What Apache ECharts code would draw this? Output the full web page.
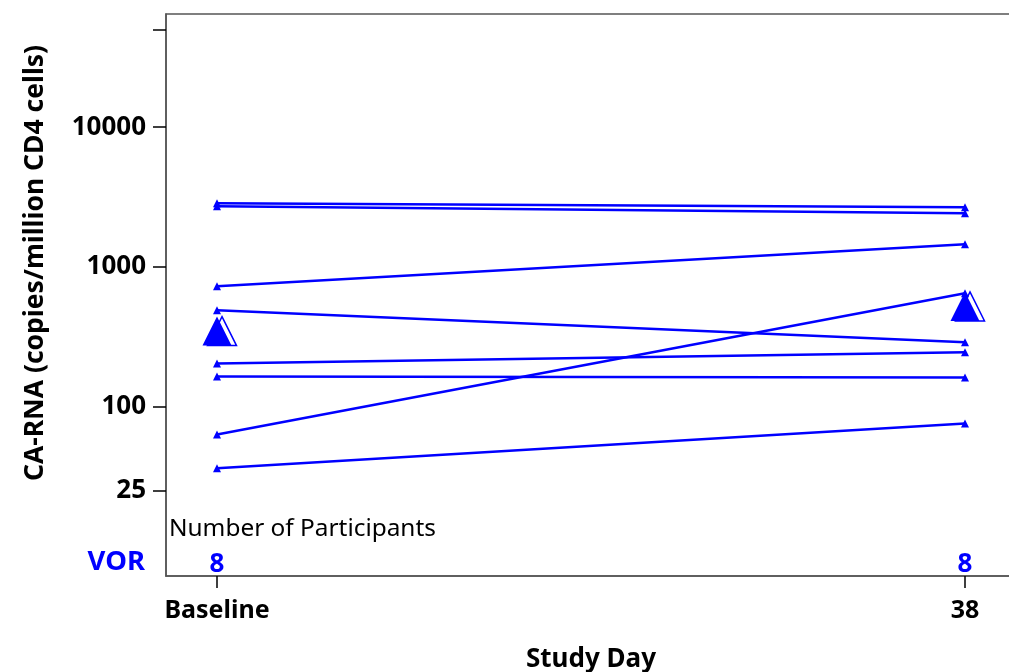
<!DOCTYPE html>
<html>
<head>
<meta charset="utf-8">
<script src="https://cdn.jsdelivr.net/npm/echarts@6/dist/echarts.min.js"></script>
<style>
  html, body { margin: 0; padding: 0; background: #fff; overflow: hidden; }
  #chart { width: 1009px; height: 672px; }
</style>
</head>
<body>
<div id="chart"></div>
<script>
// Study visits (days) and their axis labels
const days = [0, 38];
const dayLabels = ['Baseline', '38'];

// CA-RNA per participant (copies/million CD4 cells)
const baselineVals = [2850, 2710, 725, 488, 203, 164, 63, 36];
const day38Vals   = [2670, 2420, 1450, 288, 244, 161, 646, 75.5];

// Geometric mean at each visit
const geoMeans = [346, 520];

// Number of participants per visit
const groupName = 'VOR';
const participants = [8, 8];

// Y axis ticks (log scale); the top tick carries no label
const yTicks = [25, 100, 1000, 10000, 50000];
const yTickLabels = ['25', '100', '1000', '10000', ''];

const BLUE = '#0000FF';
const FONT = '"Noto Sans", "Open Sans", sans-serif';

// Log-scale y position of the participant-count row inside the plot
const COUNT_ROW_Y = 7.35;

const chart = echarts.init(document.getElementById('chart'), null, { renderer: 'canvas' });

const subjectSeries = baselineVals.map((b, i) => ({
  type: 'line',
  data: [[days[0], b], [days[1], day38Vals[i]]],
  lineStyle: { color: BLUE, width: 2.5 },
  itemStyle: { color: BLUE, opacity: 1 },
  symbol: 'triangle',
  symbolSize: 8,
  showSymbol: true,
  silent: true,
  z: 3,
  animation: false
}));

const option = {
  animation: false,
  backgroundColor: '#fff',
  grid: {
    left: 166, top: 14, width: 850, height: 562,
    show: true, borderColor: '#555', borderWidth: 1.5,
    outerBoundsMode: 'none',
    containLabel: false
  },
  xAxis: {
    type: 'value',
    min: -2.591, max: 40.591,
    splitLine: { show: false },
    axisLine: { show: true, onZero: false, lineStyle: { color: '#555', width: 1.5 } },
    axisTick: { show: true, length: 12, customValues: days, lineStyle: { color: '#000', width: 1.5 } },
    axisLabel: {
      customValues: days,
      formatter: v => dayLabels[days.indexOf(v)] ?? '',
      color: '#000', fontFamily: FONT, fontWeight: 'bold', fontSize: 25, margin: 22
    },
    name: 'Study Day',
    nameLocation: 'middle',
    nameGap: 71,
    nameTextStyle: { color: '#000', fontFamily: FONT, fontWeight: 'bold', fontSize: 26 }
  },
  yAxis: {
    type: 'log',
    logBase: 10,
    min: 6.1, max: 64600,
    splitLine: { show: false },
    axisLine: { show: true, onZero: false, lineStyle: { color: '#555', width: 1.5 } },
    axisTick: { show: true, length: 13, customValues: yTicks, lineStyle: { color: '#000', width: 1.5 } },
    axisLabel: {
      customValues: yTicks,
      formatter: v => {
        let best = 0, bd = Infinity;
        yTicks.forEach((t, i) => { const d = Math.abs(Math.log10(t) - Math.log10(v)); if (d < bd) { bd = d; best = i; } });
        return yTickLabels[best];
      },
      color: '#000', fontFamily: FONT, fontWeight: 'bold', fontSize: 26, margin: 20
    }
  },
  graphic: [
    {
      type: 'text', x: 35, y: 263, rotation: Math.PI / 2,
      style: {
        text: 'CA-RNA (copies/million CD4 cells)',
        font: 'bold 26.5px ' + FONT, fill: '#000',
        textAlign: 'center', textVerticalAlign: 'middle'
      }
    },
    {
      type: 'text', x: 169, y: 529,
      style: {
        text: 'Number of Participants',
        font: '24.4px ' + FONT, fill: '#000',
        textAlign: 'left', textVerticalAlign: 'middle'
      }
    },
    {
      type: 'text', x: 145, y: 562,
      style: {
        text: groupName,
        font: 'bold 27.5px ' + FONT, fill: BLUE,
        textAlign: 'right', textVerticalAlign: 'middle'
      }
    }
  ],
  series: [
    // outlined shadow triangle behind the geometric-mean marker
    {
      type: 'scatter',
      data: days.map((d, i) => [d, geoMeans[i]]),
      symbol: 'triangle', symbolSize: 29, symbolOffset: [5, 0],
      itemStyle: { color: 'rgba(0,0,0,0)', borderColor: BLUE, borderWidth: 1.5, opacity: 1 },
      silent: true, z: 4
    },
    {
      type: 'scatter',
      data: days.map((d, i) => [d, geoMeans[i]]),
      symbol: 'triangle', symbolSize: 29,
      itemStyle: { color: BLUE, opacity: 1 },
      silent: true, z: 5
    },
    ...subjectSeries,
    // participant counts row
    {
      type: 'scatter',
      data: days.map((d, i) => [d, COUNT_ROW_Y, participants[i]]),
      symbolSize: 0,
      itemStyle: { opacity: 1 },
      label: {
        show: true, position: 'inside',
        formatter: p => String(p.data[2]),
        color: BLUE, opacity: 1, fontFamily: FONT, fontWeight: 'bold', fontSize: 26
      },
      silent: true, z: 6
    }
  ]
};

chart.setOption(option);
</script>
</body>
</html>
